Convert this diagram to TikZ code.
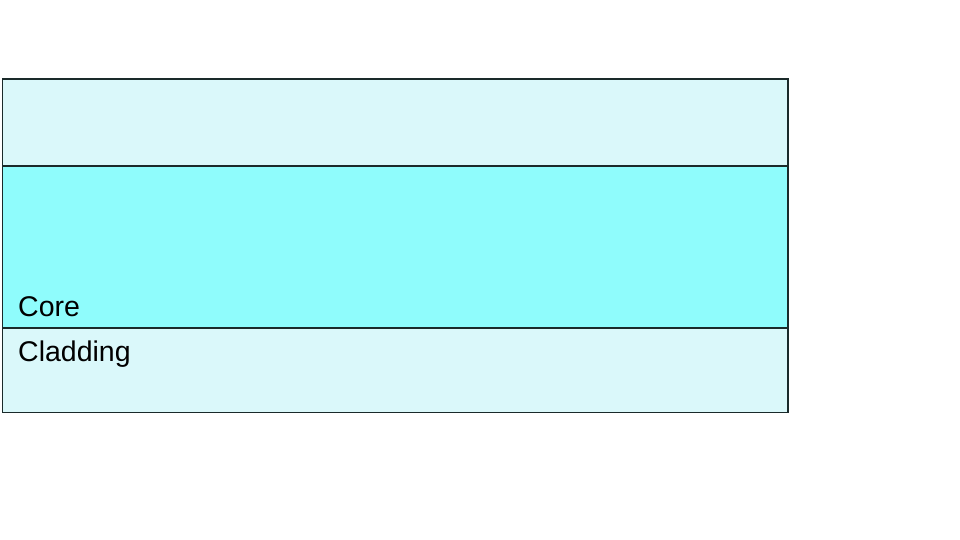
\documentclass[tikz,border=0pt]{standalone}
\usepackage{fontspec}
\setmainfont{Liberation Sans}
\definecolor{clad}{HTML}{DAF8FA}
\definecolor{corec}{HTML}{8FFCFC}
\definecolor{edge}{HTML}{1A2A2A}
\begin{document}
\begin{tikzpicture}[x=1pt,y=-1pt,
  layer/.style={draw=edge,line width=1.6pt,inner sep=0pt,anchor=north west,minimum width=785.5pt},
  lbl/.style={font=\fontsize{28.5}{33}\selectfont,anchor=base west,inner sep=0pt}]
\useasboundingbox (0,0) rectangle (960,540);
\node[layer,fill=clad,minimum height=333pt] (outer) at (1.5,78.5) {};
\node[layer,fill=corec,minimum height=162pt] (core) at (1.5,165) {};
\node[lbl] (corelbl) at (18,316) {Core};
\node[lbl] (cladlbl) at (18,361.5) {Cladding};
\end{tikzpicture}
\end{document}
